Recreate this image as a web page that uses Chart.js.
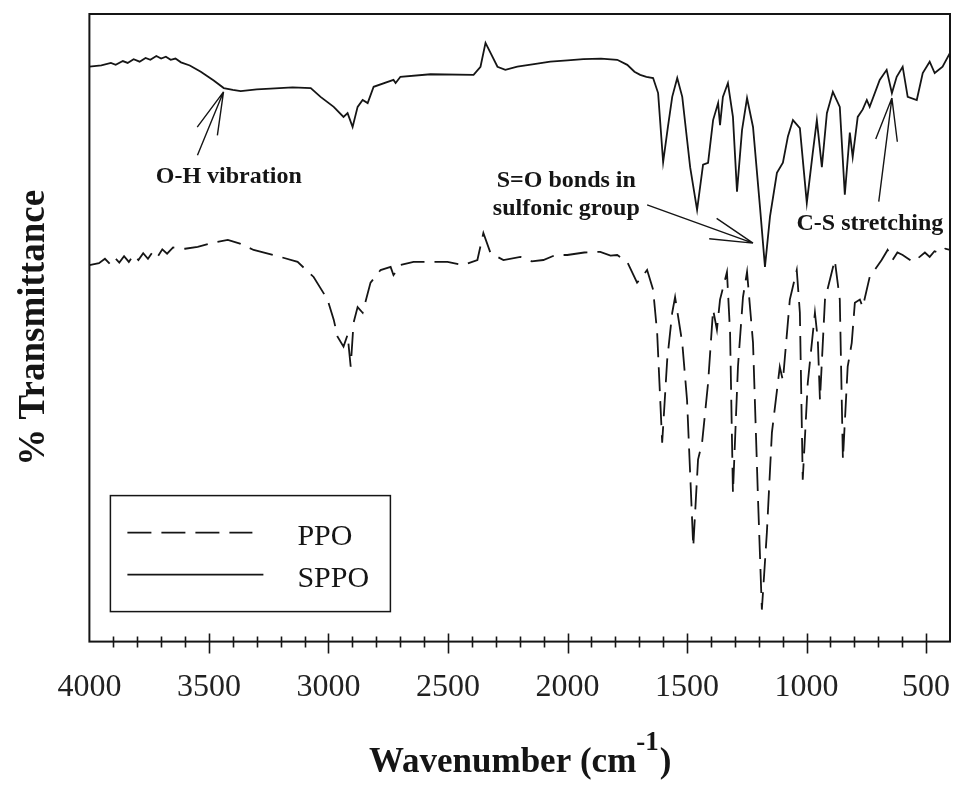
<!DOCTYPE html>
<html>
<head>
<meta charset="utf-8">
<title>FTIR PPO / SPPO</title>
<script src="https://cdn.jsdelivr.net/npm/chart.js@4.4.1/dist/chart.umd.min.js"></script>
<style>
  html, body { margin: 0; padding: 0; background: #fff; }
  #wrap { width: 955px; height: 787px; }
</style>
</head>
<body>
<div id="wrap"><canvas id="ftir" width="955" height="787"></canvas></div>
<script>
// --- DONNEES ---
const sppoWavenumber = [4000, 3950, 3910, 3890, 3860, 3840, 3815, 3790, 3765, 3745, 3720, 3700, 3680, 3660, 3640, 3617,
  3580, 3534, 3480, 3438, 3400, 3367, 3300, 3242, 3150, 3074, 3033, 2978, 2937, 2920, 2899, 2878, 2857, 2836, 2811,
  2728, 2719, 2699, 2573, 2393, 2364, 2343, 2322, 2293, 2260, 2210, 2140, 2072, 2000, 1934, 1860, 1792, 1750, 1720,
  1696, 1670, 1642, 1621, 1600, 1580, 1562, 1541, 1520, 1500, 1487, 1458, 1433, 1412, 1391, 1370, 1362, 1350, 1329,
  1308, 1291, 1270, 1249, 1224, 1195, 1174, 1153, 1124, 1099, 1078, 1057, 1028, 999, 974, 957, 936, 915, 890, 861,
  840, 819, 807, 786, 765, 748, 736, 694, 665, 643, 623, 598, 577, 539, 514, 485, 464, 431, 400];
const sppoTransmittance = [91.6, 91.8, 92.2, 91.9, 92.5, 92.2, 92.8, 92.4, 93.0, 92.7, 93.3, 92.9, 93.2, 92.7, 92.9, 92.3,
  91.8, 90.8, 89.4, 88.2, 87.9, 87.7, 88.0, 88.1, 88.3, 88.2, 86.8, 85.2, 83.6, 84.2, 82.0, 85.2, 86.3, 85.8, 88.4,
  89.5, 89.0, 90.0, 90.4, 90.3, 91.6, 95.4, 93.8, 91.6, 91.1, 91.6, 92.0, 92.4, 92.6, 92.8, 92.9, 92.7, 91.9, 90.8,
  90.3, 90.0, 89.8, 87.4, 76.4, 82.0, 86.8, 89.8, 86.8, 80.0, 75.6, 68.8, 76.0, 76.3, 83.1, 85.8, 82.3, 86.8, 89.0,
  83.6, 71.7, 81.5, 86.6, 82.0, 69.3, 59.7, 67.7, 74.7, 76.3, 80.5, 83.1, 81.8, 69.9, 77.9, 83.1, 75.6, 84.2, 87.6, 85.2,
  71.2, 81.1, 77.2, 83.6, 84.8, 86.3, 85.2, 89.5, 91.1, 87.4, 90.0, 91.6, 86.8, 86.3, 90.6, 92.4, 90.6, 91.6, 93.8];

const ppoWavenumber = [4000, 3960, 3935, 3915, 3895, 3875, 3855, 3835, 3815, 3795, 3775, 3755, 3735, 3715, 3695, 3675,
  3650, 3600, 3547, 3480, 3421, 3370, 3313, 3220, 3129, 3062, 3004, 2978, 2962, 2937, 2920, 2907, 2895, 2878, 2857,
  2824, 2782, 2740, 2728, 2699, 2644, 2502, 2435, 2377, 2352, 2322, 2268, 2197, 2150, 2101, 2050, 2001, 1930, 1863,
  1820, 1792, 1750, 1709, 1690, 1667, 1642, 1625, 1604, 1583, 1562, 1550, 1520, 1500, 1474, 1454, 1437, 1412, 1391,
  1375, 1362, 1333, 1320, 1308, 1287, 1266, 1249, 1224, 1203, 1187, 1166, 1145, 1112, 1099, 1070, 1041, 1028, 1016,
  995, 965, 953, 944, 923, 882, 861, 848, 828, 811, 798, 777, 765, 736, 686, 661, 640, 620, 598, 575, 556, 527, 505,
  485, 465, 443, 420, 400];
const ppoTransmittance = [60.0, 60.3, 61.0, 60.2, 61.2, 60.4, 61.4, 60.5, 61.6, 60.8, 61.9, 61.0, 62.1, 61.3, 62.5, 61.8,
  62.8, 62.6, 62.9, 63.6, 64.0, 63.4, 62.4, 61.5, 60.5, 58.1, 54.5, 51.3, 48.6, 47.0, 48.9, 43.8, 50.8, 53.3, 52.4,
  57.2, 59.2, 59.7, 58.4, 60.0, 60.5, 60.5, 60.0, 60.8, 65.1, 61.9, 60.8, 61.3, 60.6, 60.8, 61.6, 61.6, 62.0, 62.1,
  61.5, 61.6, 60.5, 57.2, 58.0, 59.2, 56.1, 49.2, 31.7, 44.9, 52.4, 54.9, 47.6, 38.5, 15.1, 29.0, 31.7, 41.2, 52.9,
  49.7, 54.5, 58.9, 49.2, 23.7, 43.8, 54.9, 58.9, 47.6, 22.6, 5.1, 17.4, 33.3, 43.8, 41.6, 54.5, 59.2, 52.4, 25.8,
  41.2, 52.4, 48.1, 38.5, 54.5, 60.8, 54.5, 29.0, 43.8, 47.6, 54.0, 54.5, 53.3, 58.1, 60.8, 62.4, 60.8, 62.0, 61.6, 61.0,
  60.5, 61.3, 62.0, 61.3, 62.2, 61.9, 62.6, 62.4];

const xTickValues = [4000, 3500, 3000, 2500, 2000, 1500, 1000, 500];

// Annotations : texte + fleche (coordonnees en nombre d'onde / transmittance)
const annotations = [
  { lines: ['O-H vibration'], at: [3417, 73.1], tail: [3548, 77.5], tip: [3439, 87.6] },
  { lines: ['S=O bonds in', 'sulfonic group'], at: [2005, 72.5], tail: [1667, 69.6], tip: [1224, 63.5] },
  { lines: ['C-S stretching'], at: [735, 65.6], tail: [698, 70.1], tip: [643, 86.6] }
];

const ink = '#151515';
const serif = '"Liberation Serif", "Times New Roman", serif';

function toPoints(xs, ys) {
  return xs.map((x, i) => ({ x: x, y: ys[i] }));
}

// fleche ouverte (deux traits) a la pointe
function drawArrow(ctx, x0, y0, x1, y1) {
  const ang = Math.atan2(y0 - y1, x0 - x1);
  ctx.beginPath();
  ctx.moveTo(x0, y0);
  ctx.lineTo(x1, y1);
  [-0.25, 0.25].forEach(d => {
    ctx.moveTo(x1, y1);
    ctx.lineTo(x1 + 44 * Math.cos(ang + d), y1 + 44 * Math.sin(ang + d));
  });
  ctx.stroke();
}

// --- DECOR : cadre, graduations, titre X, annotations, legende ---
const decorPlugin = {
  id: 'decor',
  afterDraw(chart) {
    const { ctx, chartArea: a, scales: { x, y } } = chart;
    ctx.save();
    ctx.strokeStyle = ink;
    ctx.fillStyle = ink;

    // cadre
    ctx.lineWidth = 2;
    ctx.strokeRect(a.left, a.top, a.right - a.left, a.bottom - a.top);

    // graduations qui traversent l'axe
    ctx.lineWidth = 1.6;
    ctx.beginPath();
    for (let v = 3900; v > 400; v -= 100) {
      const px = Math.round(x.getPixelForValue(v)) + 0.5;
      const major = v % 500 === 0;
      ctx.moveTo(px, a.bottom - (major ? 8 : 5));
      ctx.lineTo(px, a.bottom + (major ? 12 : 6));
    }
    ctx.stroke();

    // titre X avec exposant
    const big = 'bold 35px ' + serif, small = 'bold 27px ' + serif;
    ctx.textBaseline = 'alphabetic';
    ctx.textAlign = 'left';
    ctx.font = big;
    const w1 = ctx.measureText('Wavenumber (cm').width;
    const w3 = ctx.measureText(')').width;
    ctx.font = small;
    const w2 = ctx.measureText('-1').width;
    let tx = (a.left + a.right) / 2 - (w1 + w2 + w3) / 2;
    ctx.font = big;
    ctx.fillText('Wavenumber (cm', tx, 772);
    ctx.font = small;
    ctx.fillText('-1', tx + w1, 750);
    ctx.font = big;
    ctx.fillText(')', tx + w1 + w2 + 1, 772);

    // annotations
    ctx.font = 'bold 24px ' + serif;
    ctx.textAlign = 'center';
    ctx.lineWidth = 1.4;
    annotations.forEach(an => {
      const cx = x.getPixelForValue(an.at[0]);
      const cy = y.getPixelForValue(an.at[1]);
      an.lines.forEach((t, i) => ctx.fillText(t, cx, cy + i * 28));
      drawArrow(ctx, x.getPixelForValue(an.tail[0]), y.getPixelForValue(an.tail[1]),
        x.getPixelForValue(an.tip[0]), y.getPixelForValue(an.tip[1]));
    });

    // legende encadree
    const lx = a.left + 21, ly = a.bottom - 146;
    ctx.lineWidth = 1.5;
    ctx.strokeRect(lx, ly, 280, 116);
    ctx.font = '30px ' + serif;
    ctx.textAlign = 'left';
    const order = [1, 0]; // PPO puis SPPO
    order.forEach((di, row) => {
      const ds = chart.data.datasets[di];
      const yy = ly + 37 + row * 42;
      ctx.save();
      ctx.lineWidth = 1.8;
      ctx.setLineDash(ds.borderDash || []);
      ctx.beginPath();
      ctx.moveTo(lx + 17, yy);
      ctx.lineTo(lx + (ds.borderDash ? 142 : 153), yy);
      ctx.stroke();
      ctx.restore();
      ctx.fillText(ds.label, lx + 187, yy + 12);
    });
    ctx.restore();
  }
};

new Chart(document.getElementById('ftir'), {
  type: 'scatter',
  data: {
    datasets: [
      { label: 'SPPO', data: toPoints(sppoWavenumber, sppoTransmittance), showLine: true,
        borderColor: ink, borderWidth: 1.8, pointRadius: 0, tension: 0 },
      { label: 'PPO', data: toPoints(ppoWavenumber, ppoTransmittance), showLine: true,
        borderColor: ink, borderWidth: 1.8, borderDash: [24, 10], pointRadius: 0, tension: 0 }
    ]
  },
  options: {
    responsive: false,
    animation: false,
    devicePixelRatio: 1,
    layout: { padding: { top: 14, right: 5, bottom: 75, left: 0 } },
    plugins: { legend: { display: false }, tooltip: { enabled: false } },
    scales: {
      x: {
        type: 'linear', reverse: true, min: 400, max: 4000,
        afterBuildTicks: s => { s.ticks = xTickValues.map(v => ({ value: v })); },
        afterFit: s => { s.paddingLeft = 0; s.paddingRight = 0; },
        ticks: { callback: v => String(v), font: { family: serif, size: 32 }, color: '#222', padding: 5, maxRotation: 0, autoSkip: false },
        grid: { display: false, drawTicks: true, tickLength: 22 },
        border: { display: false }
      },
      y: {
        min: 0, max: 100,
        ticks: { display: false },
        grid: { display: false, drawTicks: false },
        border: { display: false },
        title: { display: true, text: '% Transmittance', color: ink,
          font: { family: serif, size: 37, weight: 'bold' }, padding: { top: 12, bottom: 33 } }
      }
    }
  },
  plugins: [decorPlugin]
});
</script>
</body>
</html>
